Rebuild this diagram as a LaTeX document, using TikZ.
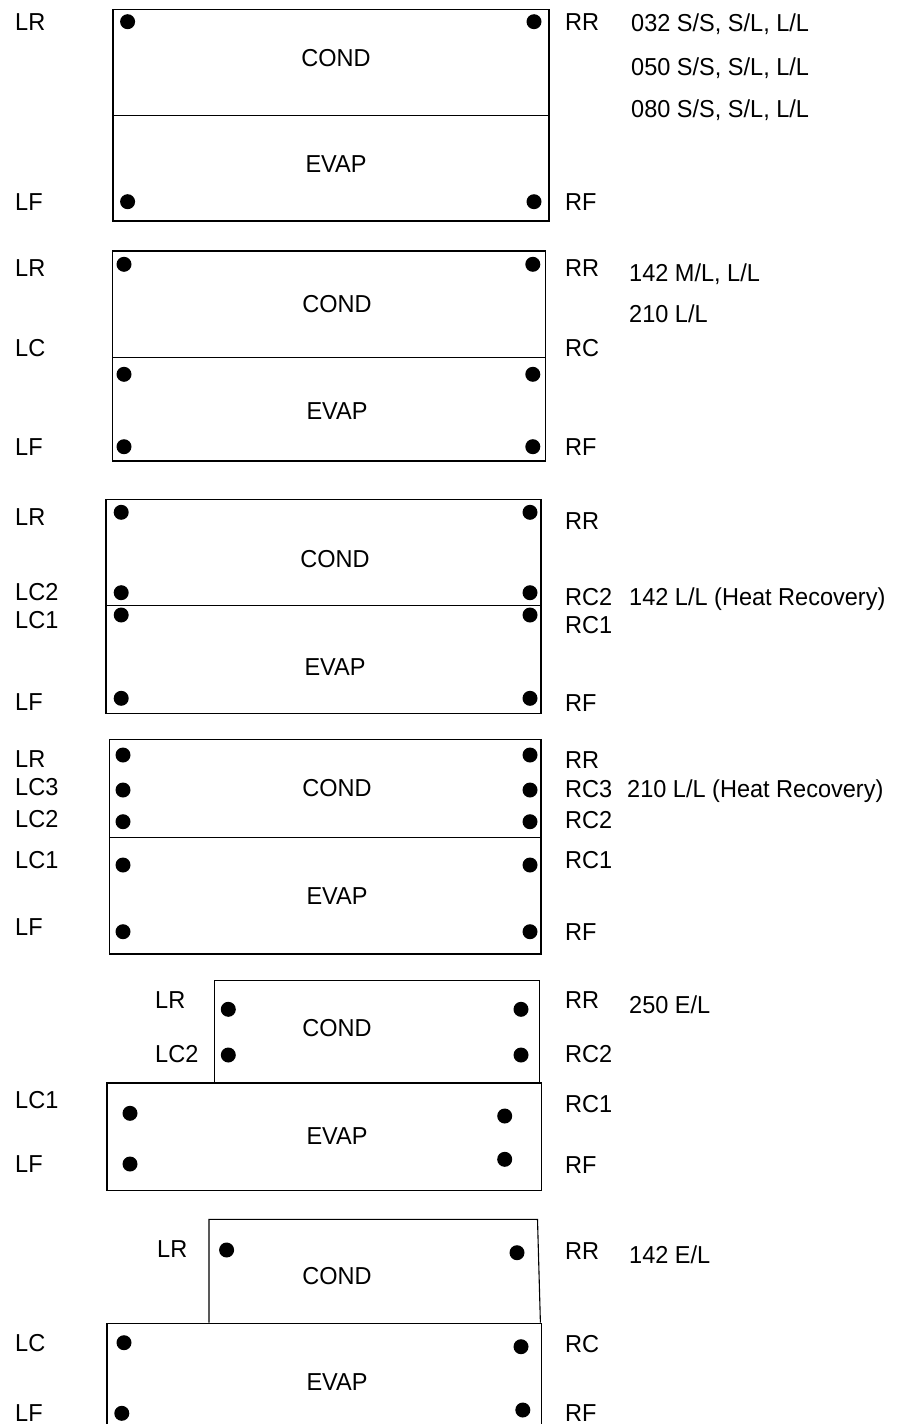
\documentclass[tikz,border=0pt]{standalone}
\usepackage{fontspec}
\setmainfont{Liberation Sans}[FakeStretch=0.96]
\begin{document}
\begin{tikzpicture}[x=1pt,y=-1pt,
  lab/.style={anchor=west,inner sep=0pt,text height=17.5pt,text depth=0pt,font=\fontsize{24.5}{27}\selectfont},
  mid/.style={anchor=center,inner sep=0pt,text height=17.5pt,text depth=0pt,font=\fontsize{24.5}{27}\selectfont},
  box/.style={draw=black,line width=1.1pt},
  dot/.style={fill=black}]
\useasboundingbox[fill=white] (0,0) rectangle (918,1424);
% ---------- Section 1
\draw[box] (113,9.5) rectangle (549,221);
\draw[box] (113,115.7) -- (549,115.7);
\foreach \p in {(127.6,21.7),(534,21.7),(127.6,201.7),(534,201.7)} \fill[dot] \p circle (7.5);
\node[mid] (c1) at (336,57.5) {COND};
\node[mid] (e1) at (336,164) {EVAP};
\node[lab] (a1) at (15,22) {LR};
\node[lab] (b1) at (15,202) {LF};
\node[lab] (r1) at (565,22) {RR};
\node[lab] (f1) at (565,202) {RF};
\node[lab] (m1a) at (631,23) {032 S/S, S/L, L/L};
\node[lab] (m1b) at (631,67) {050 S/S, S/L, L/L};
\node[lab] (m1c) at (631,109) {080 S/S, S/L, L/L};
% ---------- Section 2
\draw[box] (112.4,251) rectangle (545.7,461);
\draw[box] (112.4,357.7) -- (545.7,357.7);
\foreach \p in {(124,264.3),(532.8,264.3),(124,374.3),(532.8,374.3),(124,446.7),(532.8,446.7)} \fill[dot] \p circle (7.5);
\node[mid] (c2) at (337,303.5) {COND};
\node[mid] (e2) at (337,411) {EVAP};
\node[lab] (a2) at (15,267.3) {LR};
\node[lab] (a2c) at (15,347.3) {LC};
\node[lab] (b2) at (15,446.7) {LF};
\node[lab] (r2) at (565,267.3) {RR};
\node[lab] (r2c) at (565,347.3) {RC};
\node[lab] (f2) at (565,446.7) {RF};
\node[lab] (m2a) at (629,272.7) {142 M/L, L/L};
\node[lab] (m2b) at (629,313.3) {210 L/L};
% ---------- Section 3
\draw[box] (106,499.3) rectangle (541,713.3);
\draw[box] (106,605.7) -- (541,605.7);
\foreach \p in {(121.2,512.3),(530,512.3),(121.2,592.7),(530,592.7),(121.2,615),(530,615),(121.2,698.3),(530,698.3)} \fill[dot] \p circle (7.5);
\node[mid] (c3) at (335,558.5) {COND};
\node[mid] (e3) at (335,666.5) {EVAP};
\node[lab] (a3) at (15,517) {LR};
\node[lab] (a3c2) at (15,592) {LC2};
\node[lab] (a3c1) at (15,620) {LC1};
\node[lab] (b3) at (15,701.7) {LF};
\node[lab] (r3) at (565,521) {RR};
\node[lab] (r3c2) at (565,596.7) {RC2};
\node[lab] (r3c1) at (565,625) {RC1};
\node[lab] (f3) at (565,703) {RF};
\node[lab] (m3) at (629,597) {142 L/L (Heat Recovery)};
% ---------- Section 4
\draw[box] (109.5,739.3) rectangle (541,954);
\draw[box] (109.5,837.3) -- (541,837.3);
\foreach \p in {(123,755),(530,755),(123,790),(530,790),(123,821.7),(530,821.7),(123,865),(530,865),(123,931.7),(530,931.7)} \fill[dot] \p circle (7.5);
\node[mid] (c4) at (337,788) {COND};
\node[mid] (e4) at (337,896) {EVAP};
\node[lab] (a4) at (15,758.3) {LR};
\node[lab] (a4c3) at (15,786.7) {LC3};
\node[lab] (a4c2) at (15,818.3) {LC2};
\node[lab] (a4c1) at (15,860) {LC1};
\node[lab] (b4) at (15,926.7) {LF};
\node[lab] (r4) at (565,760) {RR};
\node[lab] (r4c3) at (565,788.3) {RC3};
\node[lab] (r4c2) at (565,820) {RC2};
\node[lab] (r4c1) at (565,860) {RC1};
\node[lab] (f4) at (565,931.7) {RF};
\node[lab] (m4) at (627,788.3) {210 L/L (Heat Recovery)};
% ---------- Section 5
\draw[box] (214.3,1082.5) -- (214.3,980.7) -- (539.8,980.7) -- (539.8,1082.5);
\draw[box] (107,1083) rectangle (541.6,1190.7);
\foreach \p in {(228.3,1009.3),(521,1009.3),(228.3,1055),(521,1055),(130,1113.3),(504.7,1116),(130,1164),(504.7,1159.3)} \fill[dot] \p circle (7.5);
\node[mid] (c5) at (337,1027.5) {COND};
\node[mid] (e5) at (337,1135.5) {EVAP};
\node[lab] (a5) at (155,1000) {LR};
\node[lab] (a5c2) at (155,1053.3) {LC2};
\node[lab] (a5c1) at (15,1100) {LC1};
\node[lab] (b5) at (15,1164) {LF};
\node[lab] (r5) at (565,1000) {RR};
\node[lab] (r5c2) at (565,1053.3) {RC2};
\node[lab] (r5c1) at (565,1104) {RC1};
\node[lab] (f5) at (565,1165) {RF};
\node[lab] (m5) at (629,1005) {250 E/L};
% ---------- Section 6
\draw[box] (209,1322.7) -- (209,1219.3) -- (537.5,1219.3) -- (540.4,1322.7);
\draw[box] (107,1430) -- (107,1323.3) -- (541.6,1323.3) -- (541.6,1430);
\foreach \p in {(226.6,1250),(517,1252.7),(124,1342.7),(521,1346.7),(121.8,1413.3),(522.8,1410)} \fill[dot] \p circle (7.5);
\node[mid] (c6) at (337,1275.5) {COND};
\node[mid] (e6) at (337,1382) {EVAP};
\node[lab] (a6) at (157,1248.3) {LR};
\node[lab] (r6) at (565,1251) {RR};
\node[lab] (m6) at (629,1255) {142 E/L};
\node[lab] (a6c) at (15,1342.7) {LC};
\node[lab] (r6c) at (565,1344) {RC};
\node[lab] (b6) at (15,1412.7) {LF};
\node[lab] (f6) at (565,1412.7) {RF};
\end{tikzpicture}
\end{document}
